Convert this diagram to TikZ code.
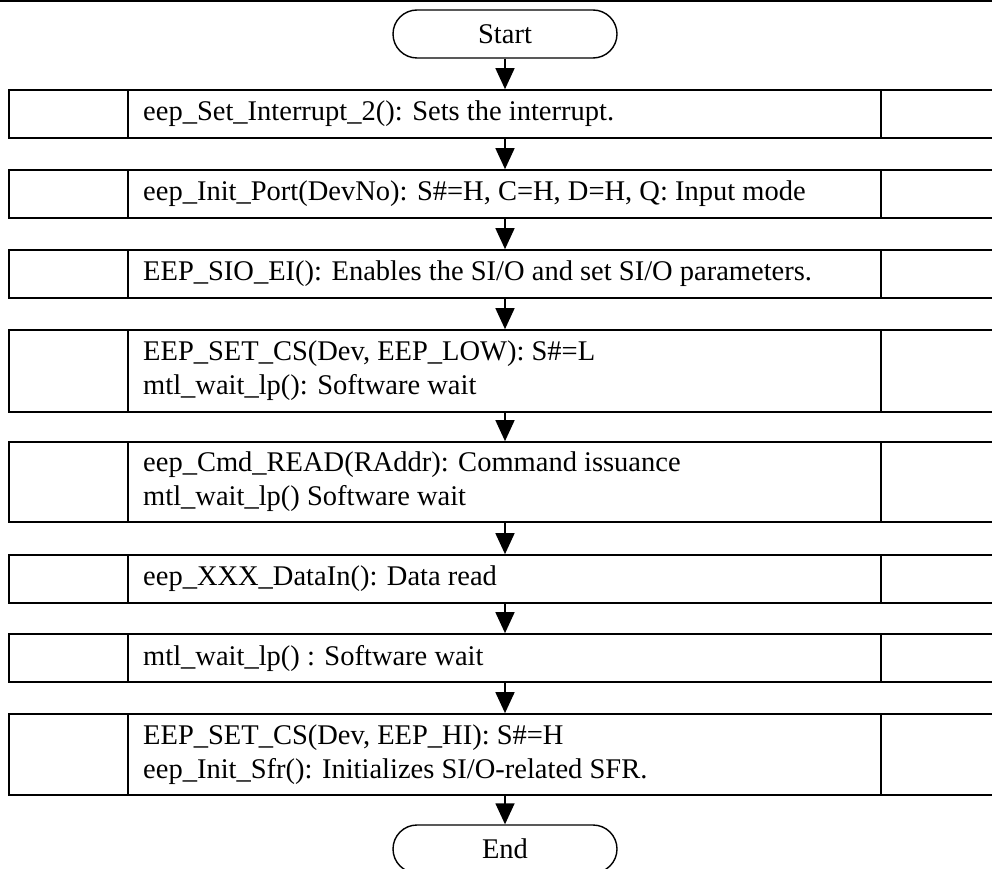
\documentclass[tikz,border=0pt]{standalone}
\usepackage{fontspec}
\setmainfont{Liberation Serif}
\usetikzlibrary{arrows.meta}

% one process row: name, top, bottom, text
\newcommand\procrow[4]{%
  \node[stepbox, minimum height={#3-#2}] (#1) at (509.5,{(#2+#3)/2}) {};
  \draw[edge] (#1.north -| 128,0) -- (#1.south -| 128,0);
  \draw[edge] (#1.north -| 881,0) -- (#1.south -| 881,0);
  \node[txt] at (143,{(#2+#3)/2}) {#4};
}

\begin{document}
\begin{tikzpicture}[x=1pt,y=-1pt,
  edge/.style={line width=1.7pt},
  stepbox/.style={draw, line width=1.7pt, minimum width=1001pt, inner sep=0pt},
  term/.style={draw, line width=1.4pt, rounded corners=24pt, minimum width=224pt,
               minimum height=48pt, inner sep=0pt, font=\fontsize{28.5}{34}\selectfont},
  txt/.style={anchor=west, align=left, inner sep=0pt, font=\fontsize{28.5}{34}\selectfont},
  flow/.style={line width=1.6pt, -{Triangle[length=21pt,width=19pt]}},
]
\useasboundingbox (0,0) rectangle (992,869);
\clip (0,0) rectangle (992,869);

\draw[line width=2pt] (0,1) -- (992,1);

\node[term] (s) at (505,34) {Start};

\procrow{b1}{90}{138}{eep\_Set\_Interrupt\_2(): Sets the interrupt.}
\procrow{b2}{170}{218}{eep\_Init\_Port(DevNo): S\#=H, C=H, D=H, Q: Input mode}
\procrow{b3}{250}{298}{EEP\_SIO\_EI(): Enables the SI/O and set SI/O parameters.}
\procrow{b4}{330}{412}{EEP\_SET\_CS(Dev, EEP\_LOW): S\#=L\\mtl\_wait\_lp(): Software wait}
\procrow{b5}{442}{522}{eep\_Cmd\_READ(RAddr): Command issuance\\mtl\_wait\_lp() Software wait}
\procrow{b6}{555}{603}{eep\_XXX\_DataIn(): Data read}
\procrow{b7}{634}{682}{mtl\_wait\_lp() : Software wait}
\procrow{b8}{714}{795}{EEP\_SET\_CS(Dev, EEP\_HI): S\#=H\\eep\_Init\_Sfr(): Initializes SI/O-related SFR.}

\node[term] (e) at (505,849) {End};

\draw[flow] (s.south) -- (s.south |- b1.north);
\draw[flow] (s.south |- b1.south) -- (s.south |- b2.north);
\draw[flow] (s.south |- b2.south) -- (s.south |- b3.north);
\draw[flow] (s.south |- b3.south) -- (s.south |- b4.north);
\draw[flow] (s.south |- b4.south) -- (s.south |- b5.north);
\draw[flow] (s.south |- b5.south) -- (s.south |- b6.north);
\draw[flow] (s.south |- b6.south) -- (s.south |- b7.north);
\draw[flow] (s.south |- b7.south) -- (s.south |- b8.north);
\draw[flow] (s.south |- b8.south) -- (e.north);
\end{tikzpicture}
\end{document}
